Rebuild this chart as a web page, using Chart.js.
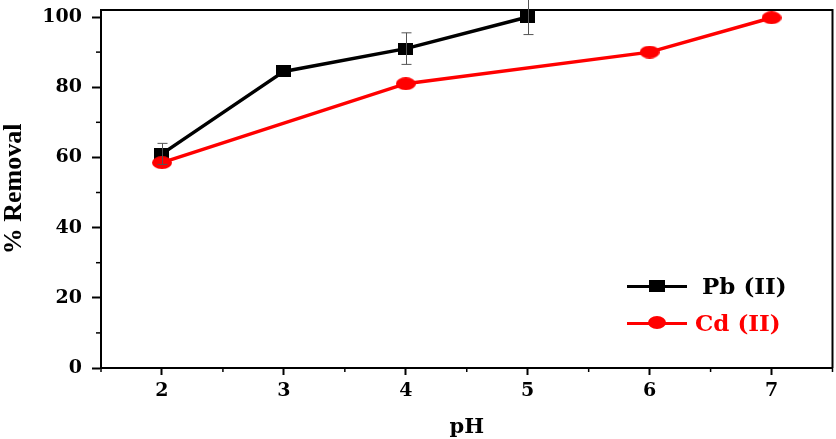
<!DOCTYPE html>
<html>
<head>
<meta charset="utf-8">
<script src="https://cdn.jsdelivr.net/npm/chart.js@4.4.1/dist/chart.umd.min.js"></script>
<style>
  html, body { margin: 0; padding: 0; background: #fff; overflow: hidden; }
  #wrap { position: relative; width: 836px; height: 439px; overflow: hidden; }
  #c { position: absolute; left: 0; top: 0; }
  .leg { position: absolute; font-family: "DejaVu Serif", serif; font-weight: bold; font-size: 23px; line-height: 26px; }
  .legLine { position: absolute; height: 3px; width: 60px; }
</style>
</head>
<body>
<div id="wrap">
  <canvas id="c" width="840" height="439"></canvas>
  <div class="legLine" style="left:627px;top:285px;background:#000"></div>
  <div style="position:absolute;left:649px;top:280px;width:16px;height:12px;background:#000"></div>
  <div class="leg" style="left:702px;top:273px;color:#000">Pb (II)</div>
  <div class="legLine" style="left:627px;top:322px;background:#ff0000"></div>
  <div style="position:absolute;left:648px;top:316px;width:18px;height:13px;border-radius:50%;background:#ff0000"></div>
  <div class="leg" style="left:695px;top:310px;color:#ff0000">Cd (II)</div>
</div>
<script>
// 数据
const pbPH = [2, 3, 4, 5];
const pbRemoval = [61, 84.5, 91, 100];
const pbError = [3, 0, 4.5, 5];
const cdPH = [2, 4, 6, 7];
const cdRemoval = [58.5, 81, 90, 99.8];
const xTicks = [2, 3, 4, 5, 6, 7];
const xMinorTicks = [1.5, 2.5, 3.5, 4.5, 5.5, 6.5, 7.5];
const yTicks = [0, 20, 40, 60, 80, 100];
const yMinorTicks = [10, 30, 50, 70, 90];

// 标记图形（原图被横向拉伸，所以用椭圆/扁方块）
function makeMarker(w, h, color, round) {
  const cv = document.createElement('canvas');
  cv.width = w; cv.height = h;
  const g = cv.getContext('2d');
  g.fillStyle = color;
  if (round) {
    g.beginPath();
    g.ellipse(w / 2, h / 2, w / 2, h / 2, 0, 0, Math.PI * 2);
    g.fill();
  } else {
    g.fillRect(0, 0, w, h);
  }
  return cv;
}
const squareMarker = makeMarker(15, 12, '#000', false);
const circleMarker = makeMarker(20, 13, '#ff0000', true);

// 边框、次刻度、误差棒
const extras = {
  id: 'extras',
  afterDatasetsDraw(chart) {
    const ctx = chart.ctx;
    const a = chart.chartArea;
    const xs = chart.scales.x, ys = chart.scales.y;
    ctx.save();
    ctx.strokeStyle = '#000';
    ctx.lineWidth = 2;
    ctx.beginPath();
    ctx.moveTo(a.left, a.top);
    ctx.lineTo(a.right, a.top);
    ctx.lineTo(a.right, a.bottom);
    ctx.stroke();

    ctx.lineWidth = 1.5;
    yMinorTicks.forEach(v => {
      const y = ys.getPixelForValue(v);
      ctx.beginPath();
      ctx.moveTo(a.left, y);
      ctx.lineTo(a.left - 5, y);
      ctx.stroke();
    });
    xMinorTicks.forEach(v => {
      const x = xs.getPixelForValue(v);
      ctx.beginPath();
      ctx.moveTo(x, a.bottom);
      ctx.lineTo(x, a.bottom + 4);
      ctx.stroke();
    });

    ctx.strokeStyle = '#555';
    ctx.lineWidth = 1;
    pbPH.forEach((p, i) => {
      const e = pbError[i];
      if (!e) return;
      const x = Math.round(xs.getPixelForValue(p)) + 0.5;
      const y1 = ys.getPixelForValue(pbRemoval[i] + e);
      const y2 = ys.getPixelForValue(pbRemoval[i] - e);
      ctx.beginPath();
      ctx.moveTo(x, y1); ctx.lineTo(x, y2);
      ctx.moveTo(x - 5, y1); ctx.lineTo(x + 5, y1);
      ctx.moveTo(x - 5, y2); ctx.lineTo(x + 5, y2);
      ctx.stroke();
    });
    ctx.restore();
  }
};

const tickFont = { family: 'DejaVu Serif', weight: 'bold', size: 19 };

new Chart(document.getElementById('c'), {
  type: 'line',
  data: {
    datasets: [
      {
        label: 'Pb (II)',
        data: pbPH.map((p, i) => ({ x: p, y: pbRemoval[i] })),
        borderColor: '#000',
        backgroundColor: '#000',
        borderWidth: 3.5,
        pointStyle: squareMarker,
        order: 2
      },
      {
        label: 'Cd (II)',
        data: cdPH.map((p, i) => ({ x: p, y: cdRemoval[i] })),
        borderColor: '#ff0000',
        backgroundColor: '#ff0000',
        borderWidth: 3.5,
        pointStyle: circleMarker,
        order: 1
      }
    ]
  },
  options: {
    responsive: false,
    animation: false,
    devicePixelRatio: 1,
    clip: false,
    layout: { padding: { top: 10, right: 3, left: 0, bottom: 0 } },
    plugins: { legend: { display: false }, tooltip: { enabled: false } },
    scales: {
      x: {
        type: 'linear',
        min: 1.5,
        max: 7.5,
        afterBuildTicks: s => { s.ticks = xTicks.map(v => ({ value: v })); },
        afterFit: s => { s.height = 71; s.paddingLeft = 0; s.paddingRight = 0; },
        grid: { drawOnChartArea: false, drawTicks: true, tickLength: 7, tickColor: '#000', tickWidth: 2 },
        border: { display: true, color: '#000', width: 2 },
        ticks: { color: '#000', font: tickFont, padding: 5, maxRotation: 0 },
        title: {
          display: true, text: 'pH', color: '#000',
          font: { family: 'DejaVu Serif', weight: 'bold', size: 21, lineHeight: 1.05 },
          padding: 0
        }
      },
      y: {
        type: 'linear',
        min: 0,
        max: 102,
        afterBuildTicks: s => { s.ticks = yTicks.map(v => ({ value: v })); },
        afterFit: s => { s.width = 101; s.paddingTop = 0; s.paddingBottom = 0; },
        grid: { drawOnChartArea: false, drawTicks: true, tickLength: 9, tickColor: '#000', tickWidth: 2 },
        border: { display: true, color: '#000', width: 2 },
        ticks: { color: '#000', font: tickFont, padding: 10 },
        title: {
          display: true, text: '% Removal', color: '#000',
          font: { family: 'Liberation Serif', weight: 'bold', size: 26, lineHeight: 1.1 },
          padding: 0
        }
      }
    }
  },
  plugins: [extras]
});
</script>
</body>
</html>
